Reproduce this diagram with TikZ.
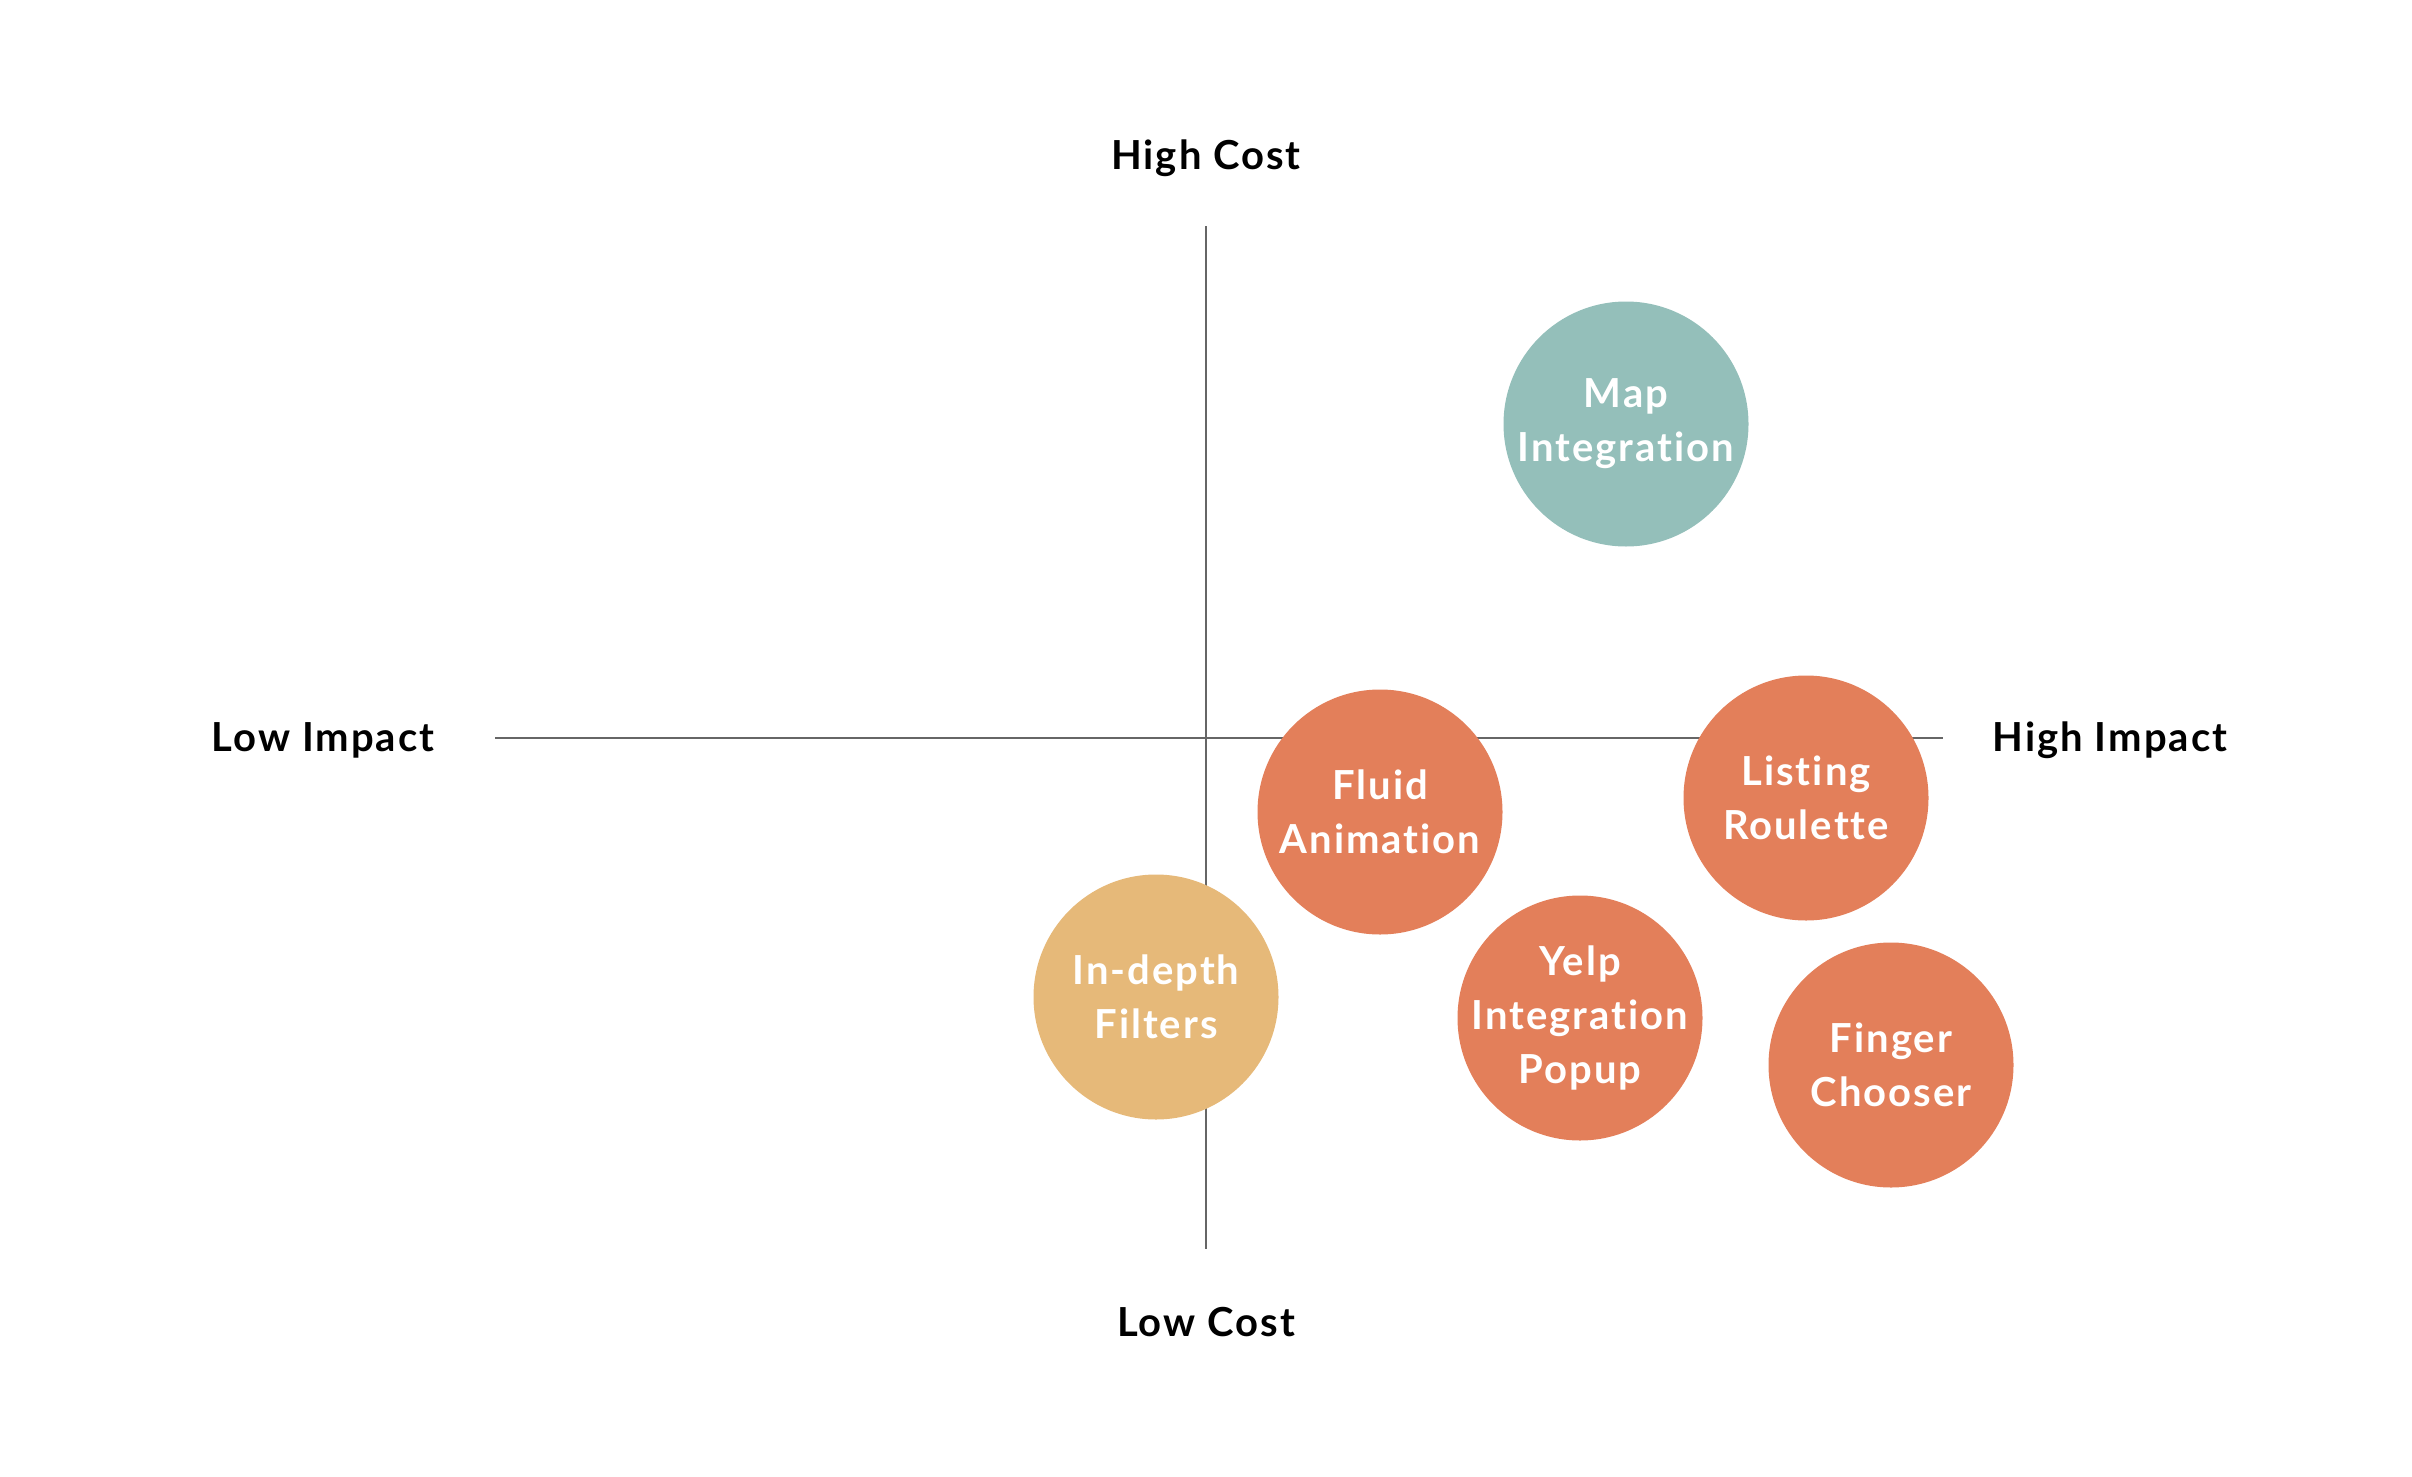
\documentclass[tikz,border=0pt]{standalone}
\usepackage{fontspec}
\setmainfont{Lato}[UprightFont=* Bold, Ligatures=NoCommon, LetterSpace=5]
\definecolor{teal}{HTML}{94BFBA}
\definecolor{coral}{HTML}{E37F5A}
\definecolor{sand}{HTML}{E6B979}
\definecolor{axis}{HTML}{666666}
\begin{document}
\begin{tikzpicture}[x=1pt,y=-1pt,
  bubble/.style={circle, minimum size=245pt, inner sep=0pt},
  bubbletext/.style={align=center, text=white, inner sep=0pt, yshift=0pt,
    font=\fontsize{40}{54}\selectfont},
  axislabel/.style={font=\fontsize{40}{46}\selectfont, text=black},
  axisline/.style={draw=axis, line width=2.8pt}]
\useasboundingbox (0,0) rectangle (2412,1477);
\coordinate (vt) at (1206,226);
\coordinate (vb) at (1206,1249);
\coordinate (hl) at (495,738);
\coordinate (hr) at (1943,738);
\draw[axisline] (vt) -- (vb);
\draw[axisline] (hl) -- (hr);
\node[axislabel] (hc) at (1206,158) {High Cost};
\node[axislabel] (lc) at (1206,1322) {Low Cost};
\node[axislabel] (li) at (323,740) {Low Impact};
\node[axislabel] (hi) at (2110,740) {High Impact};
\node[bubble, fill=teal, label={[bubbletext]center:Map\\Integration}] (map) at (1626,424) {};
\node[bubble, fill=coral, label={[bubbletext]center:Fluid\\Animation}] (fluid) at (1380,812) {};
\node[bubble, fill=coral, label={[bubbletext]center:Listing\\Roulette}] (roul) at (1806,798) {};
\node[bubble, fill=sand, label={[bubbletext]center:In-depth\\Filters}] (filt) at (1156,997) {};
\node[bubble, fill=coral, label={[bubbletext]center:Yelp\\Integration\\Popup}] (yelp) at (1580,1018) {};
\node[bubble, fill=coral, label={[bubbletext]center:Finger\\Chooser}] (fing) at (1891,1065) {};
\end{tikzpicture}
\end{document}
